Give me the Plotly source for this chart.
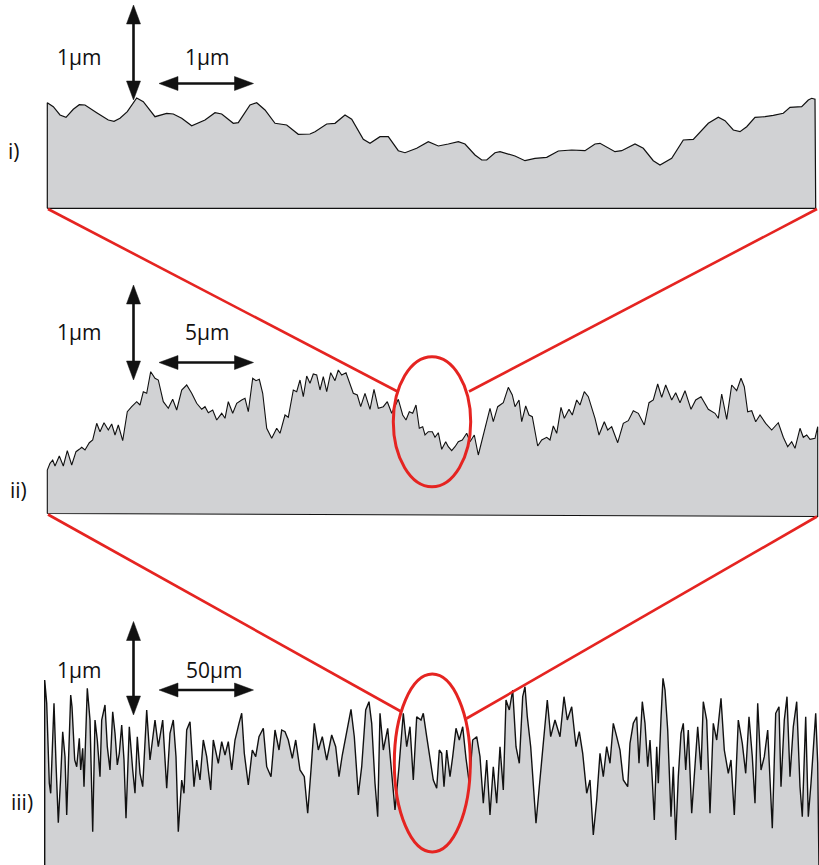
import plotly.graph_objects as go
import math

# ---------------- data (profile readings, page units) ----------------
P1_X = [47.3,53.3,60,66,73.3,79.3,85,96.7,108.3,114,120,127.3,136.7,143.3,155,166.7,173.3,181.7,191.7,205,215,221.7,233.3,238.3,250,256.7,265,275,286.7,298.3,310,315,326.7,335,345,351.7,363.3,370,380,388.3,398.3,405,416.7,428.3,438.3,448.3,458.3,465,475,481.7,486.7,495,500,515,525,535,546.7,558.3,571.7,585,595,600,615,621.7,635,643.3,653.3,660,671.7,683.3,693.3,708.3,718.3,725,733.3,740,746.7,755,765,773.3,783.3,790,801.7,808.3,811.7,815]
P1_Y = [102.7,106.7,115,117.3,109.3,104.7,105,112.7,120,121.3,118.3,111.7,98,101.7,116.7,113.3,114,118.3,125.7,120,112.7,114,123.3,122.7,105,102.7,110,123.3,125,134.3,134,131.7,124,123.3,115,119.3,139.3,143.3,136.7,136.7,150.7,152.7,148.3,141.7,146,144,141.7,144,155,160,160,152.7,151.7,156,160.7,158.3,157.3,151,150,150.7,144,143.3,151.7,150.7,144,148.3,160.7,165,158.3,140,139.3,123.3,117.3,120.7,130,131.7,126.7,117.3,116.7,115.3,113.3,107.3,106.7,100,98.3,99.3]

P2_X = [47.3,50,52.7,55,59.3,63.3,67.3,71.7,76,79.3,81.7,85,89.3,92.7,96.7,100,104,108.3,111.7,115,118.3,122.7,127.3,131.7,136.7,140,143.3,146.7,150.7,155,158.3,163.3,168.3,172.7,176.7,181.7,186.7,191.7,196.7,201.7,205,208.3,212.7,216.7,221.7,225,228.3,232.7,236.7,241.7,245,248.3,252.7,256,259.3,262.7,266.7,271.7,276.7,280,285,288.3,293.3,296.7,300,303.3,306.7,310,313.3,316.7,320,323.3,326.7,330.7,335,338.3,341.7,346,350,353.3,357.3,360.7,365,370,374,378.3,383.3,387.3,391.7,398.3,402.7,406,409.3,412.7,416,419.3,422.7,425,428.3,432.3,435,438.3,441.7,445.7,448.3,451.7,455,458.3,462.3,466.7,470,474.3,478.3,484.3,490,493.3,497.7,503.3,508.3,512.3,515,519,521.7,525.7,529,532.3,537.7,541.7,546.7,550,553.3,556.7,561,564.3,569,572.3,576.7,580,584.3,588.3,595,599,604.3,607.7,611.7,617.7,623.3,628.3,633.3,638.3,644.3,649,653.3,657.7,661.7,665.7,671.7,675.7,680,685,691,695.7,701,708.3,715,718.3,721.7,726.7,731.7,736.7,741,744.3,747.7,751.7,755.7,760,765.7,771.7,778.3,783.3,787.7,791.7,795,800,803.3,806.7,810,815,817.7]
P2_Y = [470,463.3,460,466,456,466,450.7,465,451.7,449.3,447.3,450,442.7,440,423.3,431.7,422.7,430,424,435,425,440.7,411.7,406.7,401.7,405,391.7,393.3,371.7,378.3,380,401.7,408.3,399.3,410,390,385,393.3,403.3,409.3,406.7,412.7,410,420,413.3,418.3,401.7,413.3,403.3,400,398.3,411.7,378.3,380.7,379.3,393.3,428.3,438.3,428.3,433.3,415,417.3,390,391.7,380,396.7,376,383.3,374,375,390,376.7,391.7,372.7,380.7,370,375,372.7,383.3,393.3,395,406.7,393.3,409.3,389.3,408.3,406.7,401.7,413.3,399.3,415,420,411.7,413.3,405,428.3,426.7,435,431.7,431.7,437.3,432.7,449.3,441.7,446.7,450.7,446.7,441.7,440,433.3,441.7,435,455,430,408.3,421.7,406.7,402.7,387.3,395,406.7,400,421.7,406,415,416.7,446,440,437.3,440,426,433.3,407.3,418.3,409.3,415,400,405,391.7,396.7,418.3,435,421.7,430,426.7,442.7,423.3,420.7,410.7,413.3,425,402.7,400,384,397.3,385,400,392.7,402.7,390.7,409.3,400,396.7,409.3,413.3,418.3,394,419.3,385,390.7,378.3,386.7,411.7,410.7,421.7,415,423.3,430,422.7,437.3,446.7,441.7,448.3,428.3,437.3,435,439.3,438.3,426.7]

P3_X = [44.7,46.7,49.3,50.7,54,56,58.3,60.7,62.7,65,66.7,70.7,72,74.7,76.7,79.3,80.7,82.7,84,87.3,90,92.7,95,97.3,100,101.7,105,107.3,110,112.7,115,117.3,119.3,121.7,124,126,129.3,132.7,135,137.3,140,142.7,146.7,150,155,158.3,162.7,166.7,170,173.3,176,178.3,181.7,184,186.7,190,194,196.7,200,203.3,206.7,210.7,213.3,218.3,221.7,225,228.3,231.7,235,239,241.7,244.3,248.3,252.3,255.7,259,263.3,266.7,271,275,279,281.7,285,288.3,292.3,295.7,300,304.3,307.7,311,314.3,318.3,322.3,326.7,331.7,335.7,339,342.3,346.7,351,354.3,358.3,361.7,365.7,369,371.7,375,377.7,380,383.3,387.7,391.7,395,399,403.3,406.7,410,413.3,416.7,421,423.3,426.7,430,433.3,436.7,439.3,441.7,444,446.7,450,452.7,456,459.3,462.7,466,469.3,472.7,476.7,480,483.3,486.7,490,493.3,496.7,500,503.3,506,509.3,512.7,516,519.3,522.7,525,527.3,530.7,534,536,539.3,543.3,547.3,550.7,555,560,564,567.3,571.7,576,579.3,582.7,586.7,590,593.3,596.7,600,603.3,606.7,610,613.3,616.7,620,623.3,627.7,630,633.3,636.7,639,642.3,645,647.7,650,652.3,654.3,656.7,658.3,661,663,665,667.7,671,673.3,675.7,678.3,681,683.3,685.7,688.3,691.7,695,697.7,701,703.3,706.7,710,713.3,716.7,721,724.3,728.3,731,734.3,738.3,742.3,745.7,749,752.3,755,757.7,761,764.3,767.7,772.3,775.7,779,781,784.3,787,790,793.3,796.7,800,802.3,805.7,808.3,811,813.3,815.7,817.7]
P3_Y = [680,703.3,783.3,793.3,703.3,763.3,822.7,776.7,731.7,756.7,815,695,706.7,760,766.7,738.3,770,748.3,786.7,688.3,720,831.7,720,740,776.7,720,705,746.7,770,711.7,733.3,765,753.3,725,760,818.3,726.7,770,793.3,736.7,773.3,786.7,710,760,720,746.7,720,788.3,733.3,720,756.7,831.7,780,793.3,730,721.7,786.7,760,780,740,756.7,790,740,763.3,741.7,755,741.7,770,740,723.3,713.3,753.3,785,750,756.7,736.7,728.3,766.7,776.7,730,750,730,731.7,740,758.3,740,770,776.7,813.3,770,723.3,750,736.7,760,735,746.7,776.7,755,731.7,709.3,736.7,795,766.7,710,701.7,723.3,783.3,816.7,713.3,750,728.3,776.7,810,766.7,713.3,746.7,726.7,780,716.7,720,713.3,736.7,756.7,780,788.3,750,753.3,786.7,750,776.7,756.7,728.3,740,726.7,758.3,783.3,740,736.7,756.7,803.3,760,815,766.7,803.3,746.7,790,700,710,690,746.7,763.3,696.7,686.7,716.7,746.7,796.7,823.3,786.7,746.7,700,736.7,720,736.7,696.7,720,706.7,746.7,731.7,753.3,793.3,780,835,800,753.3,776.7,746.7,763.3,723.3,736.7,750,780,786.7,743.3,723.3,716.7,763.3,701.7,723.3,766.7,740,780,820,746.7,783.3,718.3,678.3,690,730,816.7,766.7,840,776.7,733.3,723.3,770,730,813.3,763.3,726.7,770,701.7,720,813.3,723.3,740,698.3,750,773.3,760,815,720,743.3,773.3,716.7,756.7,803.3,703.3,770,756.7,730,828.3,713.3,706.7,786.7,720,696.7,776.7,726.7,701.7,786.7,816.7,716.7,816.7,783.3,753.3,713.3,763.3]

LABELS = ["i)", "ii)", "iii)"]
SCALE_V = ["1µm", "1µm", "1µm"]
SCALE_H = ["1µm", "5µm", "50µm"]

# ---------------- styling ----------------
GRAY = "#d1d2d4"
RED = "#e52421"
INK = "#111111"
FONT = "Open Sans"

fig = go.Figure()

def panel(xs, ys, x_left, x_right, base_left, base_right, width=1.1):
    n = min(len(xs), len(ys))
    px = [x_left] + list(xs[:n]) + [x_right, x_left]
    py = [base_left] + list(ys[:n]) + [base_right, base_left]
    fig.add_trace(go.Scatter(
        x=px, y=py, mode="lines", fill="toself", fillcolor=GRAY,
        line=dict(color=INK, width=width),
        hoverinfo="skip", showlegend=False))

panel(P1_X, P1_Y, 47.3, 815.7, 208.3, 208.3, width=1.2)
panel(P2_X, P2_Y, 47.3, 817.7, 513.5, 516.5)
panel(P3_X, P3_Y, 44.7, 819, 868, 868, width=1.4)

shapes = []
# red connector lines
for (x0, y0, x1, y1) in [(48, 209, 397.5, 391.5), (817, 209, 469, 391.5),
                         (48, 514.5, 401, 711.5), (817, 516.5, 466.5, 718.5)]:
    shapes.append(dict(type="line", x0=x0, y0=y0, x1=x1, y1=y1,
                       line=dict(color=RED, width=2.6), layer="above"))
# red ellipses
for (cx, cy, rx, ry) in [(432, 421.7, 38.7, 65), (432.3, 763, 38, 89)]:
    shapes.append(dict(type="circle", x0=cx - rx, x1=cx + rx, y0=cy - ry, y1=cy + ry,
                       line=dict(color=RED, width=3), layer="above"))

def darrow(x0, y0, x1, y1, hl=19, hw=7, w=2.6):
    L = math.hypot(x1 - x0, y1 - y0)
    dx, dy = (x1 - x0) / L, (y1 - y0) / L
    nx, ny = -dy, dx
    shapes.append(dict(type="line", x0=x0 + dx * (hl - 2), y0=y0 + dy * (hl - 2),
                       x1=x1 - dx * (hl - 2), y1=y1 - dy * (hl - 2),
                       line=dict(color=INK, width=w), layer="above"))
    for (tx, ty, s) in [(x0, y0, 1), (x1, y1, -1)]:
        bx, by = tx + s * dx * hl, ty + s * dy * hl
        path = "M {:.2f},{:.2f} L {:.2f},{:.2f} L {:.2f},{:.2f} Z".format(
            tx, ty, bx + nx * hw, by + ny * hw, bx - nx * hw, by - ny * hw)
        shapes.append(dict(type="path", path=path, fillcolor=INK,
                           line=dict(color=INK, width=0.5), layer="above"))

for (vt, vb, hy) in [(5, 100, 83.5), (285, 380, 362.5), (621.5, 715, 690)]:
    darrow(133.5, vt, 133.5, vb)
    darrow(159, hy, 253.5, hy)

annotations = []
def txt(x, y, s, size=21):
    annotations.append(dict(x=x, y=y, text=s, showarrow=False, xanchor="center",
                             yanchor="middle", font=dict(family=FONT, size=size, color=INK)))

for i, (ty, lx, ly) in enumerate([(57, 14, 151), (332, 18, 490), (670, 21.5, 802)]):
    txt(79, ty, SCALE_V[i])
    txt(207 if i < 2 else 214, ty, SCALE_H[i])
    txt(lx, ly, LABELS[i])

fig.update_layout(
    width=819, height=865, margin=dict(l=0, r=0, t=0, b=0),
    paper_bgcolor="white", plot_bgcolor="white",
    xaxis=dict(range=[0, 819], visible=False, fixedrange=True),
    yaxis=dict(range=[865, 0], visible=False, fixedrange=True),
    shapes=shapes, annotations=annotations, showlegend=False,
)
fig.write_html("out.html", config={"displayModeBar": False},
               post_script="document.body.style.margin='0';document.body.style.overflow='hidden';")
